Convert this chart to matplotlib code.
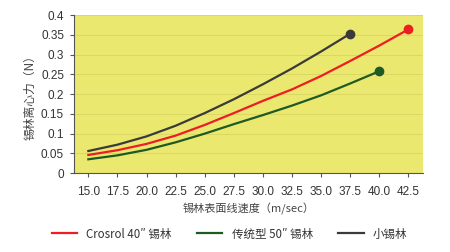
'''
centrifugal force of cylinder wire vs. surface speed.
'''

import matplotlib
matplotlib.use("Agg")
import matplotlib.pyplot as plt

plt.rcParams["font.family"] = ["Noto Sans CJK SC", "DejaVu Sans"]

# axis ticks.
x_ticks = [15.0, 17.5, 20.0, 22.5, 25.0, 27.5, 30.0, 32.5, 35.0, 37.5, 40.0, 42.5]
y_ticks = [0, 0.05, 0.1, 0.15, 0.2, 0.25, 0.3, 0.35, 0.4]
y_tick_labels = ["0", "0.05", "0.1", "0.15", "0.2", "0.25", "0.3", "0.35", "0.4"]

# series values (N).
crosrol_x = [15.0, 17.5, 20.0, 22.5, 25.0, 27.5, 30.0, 32.5, 35.0, 37.5, 40.0, 42.5]
crosrol_y = [0.046, 0.058, 0.074, 0.095, 0.122, 0.152, 0.183, 0.212, 0.246, 0.284, 0.323, 0.364]

classic_x = [15.0, 17.5, 20.0, 22.5, 25.0, 27.5, 30.0, 32.5, 35.0, 37.5, 40.0]
classic_y = [0.035, 0.045, 0.059, 0.078, 0.100, 0.124, 0.147, 0.171, 0.197, 0.227, 0.258]

small_x = [15.0, 17.5, 20.0, 22.5, 25.0, 27.5, 30.0, 32.5, 35.0, 37.5]
small_y = [0.056, 0.072, 0.093, 0.120, 0.152, 0.187, 0.225, 0.265, 0.308, 0.353]

labels = ["Crosrol 40\u2033 锡林", "传统型 50\u2033 锡林", "小锡林"]
colors = ["#ee1c24", "#1e5a23", "#3a3a3a"]

fig = plt.figure(figsize=(4.5, 2.52), dpi=100)
ax = fig.add_axes([0.164, 0.313, 0.776, 0.627])
ax.set_facecolor("#ebe86f")

series = [(crosrol_x, crosrol_y), (classic_x, classic_y), (small_x, small_y)]
for (xs, ys), lab, c in zip(series, labels, colors):
    ax.plot(xs, ys, color=c, lw=1.6, label=lab, zorder=3)
    ax.plot(xs[-1], ys[-1], "o", color=c, ms=6, zorder=4)

ax.set_xlim(13.75, 43.75)
ax.set_ylim(0, 0.4)
ax.set_xticks(x_ticks)
ax.set_xticklabels([f"{v:.1f}" for v in x_ticks])
ax.set_yticks(y_ticks)
ax.set_yticklabels(y_tick_labels)
for t in ax.get_xticklabels() + ax.get_yticklabels():
    t.set_fontfamily(["Liberation Sans", "DejaVu Sans"])
ax.grid(axis="y", color="#d8d462", lw=0.6)
ax.set_axisbelow(True)

for s in ["top", "right"]:
    ax.spines[s].set_visible(False)
for s in ["left", "bottom"]:
    ax.spines[s].set_color("#555555")
    ax.spines[s].set_linewidth(0.8)
ax.tick_params(colors="#555555", labelcolor="#333333", labelsize=8.5, length=3, width=0.8, pad=4)
ax.tick_params(axis="x", pad=6)

ax.set_ylabel("锡林离心力（N）", fontsize=8.5, color="#444444", labelpad=3)
ax.set_xlabel("锡林表面线速度（m/sec）", fontsize=8, color="#444444", labelpad=4)

fig.legend(loc="center", bbox_to_anchor=(0.51, 1 - 234 / 252), ncol=3, frameon=False,
           fontsize=8.3, handlelength=2.2, columnspacing=2.2, handletextpad=0.8,
           labelcolor="#333333")

fig.savefig("out.png", dpi=100, facecolor="white")
